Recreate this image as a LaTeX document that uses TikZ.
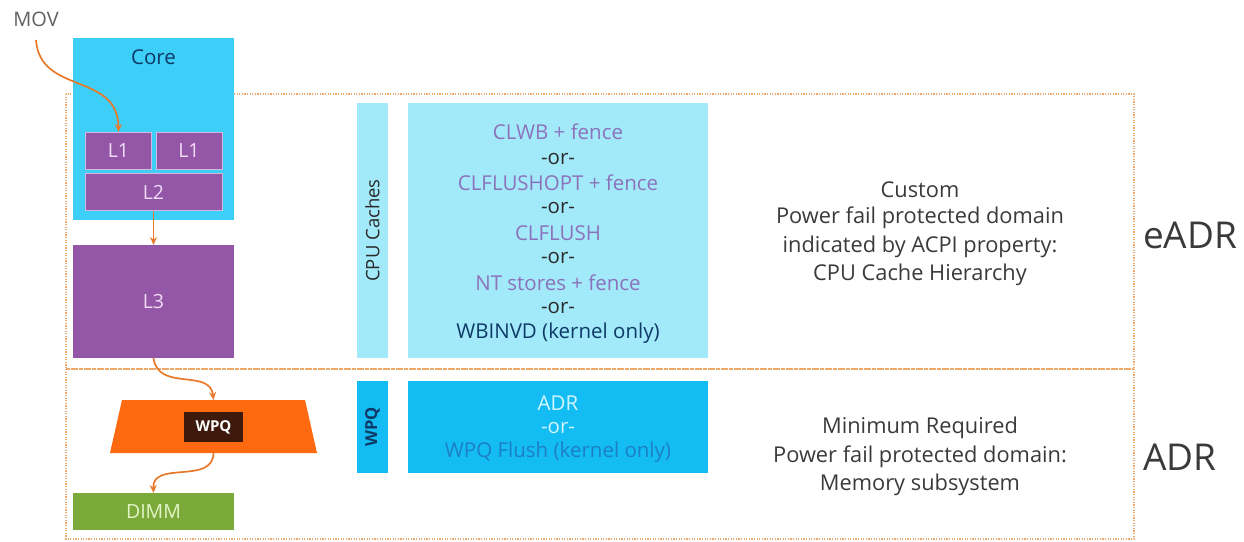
\documentclass[tikz,border=0pt]{standalone}
\usepackage{fontspec}
\setmainfont{Open Sans}
\usetikzlibrary{arrows.meta}
\definecolor{corecyan}{HTML}{3DCFF7}
\definecolor{cachepurple}{HTML}{9457A7}
\definecolor{cachetext}{HTML}{F2DDF7}
\definecolor{wpqorange}{HTML}{FF6A10}
\definecolor{wpqdark}{HTML}{3E1A0C}
\definecolor{dimmgreen}{HTML}{7BAA3A}
\definecolor{dimmtext}{HTML}{E2F5C8}
\definecolor{arroworange}{HTML}{E8792A}
\definecolor{dotorange}{HTML}{EDA86C}
\definecolor{lightcyan}{HTML}{A2E9FA}
\definecolor{deepcyan}{HTML}{14BCF4}
\definecolor{cmdpurple}{HTML}{8C72BA}
\definecolor{ortext}{HTML}{2A2A2A}
\definecolor{navy}{HTML}{0E3A66}
\definecolor{greytext}{HTML}{3A3A3A}
\definecolor{adrtext}{HTML}{D2F6FF}
\definecolor{flushtext}{HTML}{1C7FC4}
\tikzset{
  box/.style={draw=none, inner sep=0pt, outer sep=0pt},
  cache/.style={box, fill=cachepurple, draw=cachetext!70!cachepurple, line width=1pt, text=cachetext, font=\fontsize{19.5}{21}\selectfont},
  flow/.style={draw=arroworange, line width=1.7pt, -{Stealth[length=8pt,width=7pt]}},
  pfdomain/.style={draw=dotorange, line width=1.4pt, dash pattern=on 1.2pt off 1.4pt},
  cmd/.style={font=\fontsize{20.5}{22}\selectfont, inner sep=0pt},
  side/.style={font=\fontsize{21.8}{24}\selectfont, text=greytext, inner sep=0pt},
  big/.style={font=\fontsize{37}{39}\selectfont, text=greytext, inner sep=0pt, anchor=west},
}
\begin{document}
\begin{tikzpicture}[x=1pt,y=-1pt]
\useasboundingbox (0,0) rectangle (1244,541);
% domains
\draw[pfdomain] (66,94) rectangle (1134,369);
\draw[pfdomain] (66,369) rectangle (1134,539);
% core
\node[box, fill=corecyan, minimum width=161, minimum height=182] (core) at (153.5,129) {};
\node[inner sep=0pt, text=navy, font=\fontsize{20.5}{22}\selectfont] (corelabel) at (153.5,57) {Core};
\node[cache, minimum width=66, minimum height=37] (l1a) at (118.5,150.5) {L1};
\node[cache, minimum width=66, minimum height=37] (l1b) at (189,150.5) {L1};
\node[cache, minimum width=137, minimum height=37] (l2) at (153.5,192) {L2};
\node[cache, draw=none, minimum width=161, minimum height=113] (l3) at (153.5,301.5) {L3};
\node[inner sep=0pt, text=greytext!80, font=\fontsize{20}{22}\selectfont] (mov) at (36,19) {MOV};
% WPQ (trapezoid drawn from the node's corners)
\node[box, minimum width=183, minimum height=53] (wpq) at (213.5,426.5) {};
\fill[wpqorange] (wpq.north west) -- (wpq.north east) -- ([xshift=12pt]wpq.south east) -- ([xshift=-12pt]wpq.south west) -- cycle;
\node[box, fill=wpqdark, minimum width=59, minimum height=30, text=white, font=\bfseries\fontsize{15}{17}\selectfont] (wpqin) at (213.5,427) {WPQ};
\node[box, fill=dimmgreen, minimum width=161, minimum height=37, text=dimmtext, font=\fontsize{19.5}{21}\selectfont] (dimm) at (153.5,511.5) {DIMM};
% arrows
\draw[flow] (36,40) .. controls (40,95) and (118,72) .. (l1a.north);
\draw[flow] (l2.south) -- (l3.north);
\draw[flow] (l3.south) .. controls (158,392) and (210,368) .. (wpq.north);
\draw[flow] (wpq.south) .. controls (213,485) and (152,460) .. (dimm.north);
% CPU caches column
\node[box, fill=lightcyan, minimum width=31, minimum height=255] (cpubar) at (372.5,230.5) {};
\node[rotate=90, inner sep=0pt, text=ortext, font=\fontsize{18.5}{20}\selectfont] (cpulabel) at (cpubar.center) {CPU Caches};
\node[box, fill=lightcyan, minimum width=300, minimum height=255] (cmdbox) at (558,230.5) {};
\node[cmd, text=cmdpurple] (c1) at (558,132) {CLWB + fence};
\node[cmd, text=ortext] (o1) at (558,159) {-or-};
\node[cmd, text=cmdpurple] (c2) at (558,183) {CLFLUSHOPT + fence};
\node[cmd, text=ortext] (o2) at (558,208) {-or-};
\node[cmd, text=cmdpurple] (c3) at (558,233) {CLFLUSH};
\node[cmd, text=ortext] (o3) at (558,258) {-or-};
\node[cmd, text=cmdpurple] (c4) at (558,283) {NT stores + fence};
\node[cmd, text=ortext] (o4) at (558,308) {-or-};
\node[cmd, text=navy] (c5) at (558,333) {WBINVD (kernel only)};
% WPQ column
\node[box, fill=deepcyan, minimum width=31, minimum height=92] (wpqbar) at (372.5,427) {};
\node[rotate=90, inner sep=0pt, text=navy, font=\bfseries\fontsize{16.5}{18}\selectfont] (wpqlabel) at (wpqbar.center) {WPQ};
\node[box, fill=deepcyan, minimum width=300, minimum height=92] (adrbox) at (558,427) {};
\node[cmd, text=adrtext] (a1) at (558,403) {ADR};
\node[cmd, text=adrtext] (a2) at (558,428) {-or-};
\node[cmd, text=flushtext] (a3) at (558,452) {WPQ Flush (kernel only)};
% right descriptions
\node[side] (s1) at (920,190) {Custom};
\node[side] (s2) at (920,218) {Power fail protected domain};
\node[side] (s3) at (920,247) {indicated by ACPI property:};
\node[side] (s4) at (920,275) {CPU Cache Hierarchy};
\node[side] (m1) at (920,428) {Minimum Required};
\node[side] (m2) at (920,457) {Power fail protected domain:};
\node[side] (m3) at (920,485) {Memory subsystem};
\node[big] (eadr) at (1143,235) {eADR};
\node[big] (adr) at (1143,457) {ADR};
\end{tikzpicture}
\end{document}
